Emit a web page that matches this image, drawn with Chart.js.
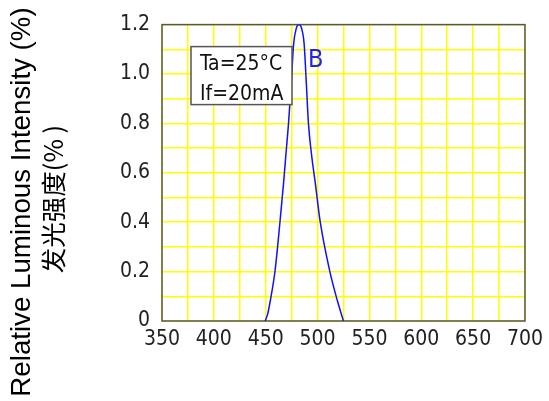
<!DOCTYPE html>
<html>
<head>
<meta charset="utf-8">
<script src="https://cdn.jsdelivr.net/npm/chart.js@4.4.1/dist/chart.umd.min.js"></script>
<style>
  html, body { margin: 0; padding: 0; background: #fff; }
  #spectrum { display: block; }
</style>
</head>
<body>
<canvas id="spectrum" width="549" height="401"></canvas>
<script>
// spectrum (nm, relative intensity)
const wavelength = [449.5, 452, 454.5, 459, 463.8, 467.3, 469.6, 472, 474.6, 476.9, 479.5, 482, 484.6, 487.1, 489.2, 491.2, 494.3, 497.7, 502.5, 511.7, 519, 525];
const intensity = [0, 0.03, 0.084, 0.203, 0.403, 0.562, 0.68, 0.80, 0.96, 1.12, 1.185, 1.2, 1.185, 1.12, 0.96, 0.80, 0.67, 0.562, 0.403, 0.203, 0.084, 0];
const xTicks = [350, 400, 450, 500, 550, 600, 650, 700];
const yTicks = [0, 0.2, 0.4, 0.6, 0.8, 1.0, 1.2];
const titleLines = ['Relative Luminous Intensity (%)', '发光强度(% )'];
const noteLines = ['Ta=25°C', 'If=20mA'];
const curveName = 'B';

const cadFont = "'Liberation Sans Narrow', 'DejaVu Sans Condensed', sans-serif";
const gridYellow = '#ffff00';
const frameGray = '#555555';

const points = wavelength.map((w, i) => ({ x: w, y: intensity[i] }));

// frame, note box, curve name, axis title
const extras = {
    id: 'extras',
    beforeDatasetsDraw(chart) {
        const a = chart.chartArea, ctx = chart.ctx;
        ctx.save();
        ctx.strokeStyle = frameGray;
        ctx.lineWidth = 1.5;
        ctx.strokeRect(a.left, a.top, a.right - a.left, a.bottom - a.top);
        ctx.restore();
    },
    afterDraw(chart) {
        const a = chart.chartArea, ctx = chart.ctx;
        const xs = chart.scales.x;
        ctx.save();
        // note box
        ctx.fillStyle = '#fff';
        ctx.fillRect(a.left + 29, a.top + 22, 101, 58);
        ctx.strokeStyle = frameGray;
        ctx.lineWidth = 1.5;
        ctx.strokeRect(a.left + 29, a.top + 22, 101, 58);
        ctx.fillStyle = '#111';
        ctx.font = '21px ' + cadFont;
        ctx.textBaseline = 'alphabetic';
        ctx.textAlign = 'left';
        ctx.fillText(noteLines[0], a.left + 38, a.top + 45);
        ctx.fillText(noteLines[1], a.left + 38, a.top + 75);
        // curve name
        ctx.fillStyle = '#2222ee';
        ctx.font = '25px ' + cadFont;
        ctx.fillText(curveName, xs.getPixelForValue(482) + 9, a.top + 42);
        // y title, two lines
        ctx.translate(0, 202);
        ctx.rotate(-Math.PI / 2);
        ctx.textAlign = 'center';
        ctx.fillStyle = '#000';
        ctx.font = '27.7px "Liberation Sans", Arial, sans-serif';
        ctx.fillText(titleLines[0], 0, 30);
        ctx.font = '25.5px "Noto Sans CJK SC", sans-serif';
        ctx.fillText(titleLines[1], 3, 63);
        ctx.restore();
    }
};

new Chart(document.getElementById('spectrum'), {
    type: 'line',
    data: {
        datasets: [{
            data: points,
            borderColor: '#1010ff',
            borderWidth: 1.5,
            pointRadius: 0,
            cubicInterpolationMode: 'monotone',
            fill: false
        }]
    },
    options: {
        responsive: false,
        devicePixelRatio: 1,
        animation: false,
        layout: { padding: { left: 0, right: 22, top: 20, bottom: 0 } },
        plugins: { legend: { display: false }, tooltip: { enabled: false } },
        scales: {
            x: {
                type: 'linear',
                min: 350,
                max: 700,
                afterFit: (s) => { s.height = 80; },
                border: { display: false },
                grid: { color: gridYellow, lineWidth: 1.5, drawTicks: false },
                ticks: {
                    stepSize: 25,
                    autoSkip: false,
                    maxRotation: 0,
                    padding: 6,
                    color: '#222',
                    font: { family: cadFont, size: 21 },
                    callback: (v) => xTicks.includes(v) ? String(v) : ''
                }
            },
            y: {
                min: 0,
                max: 1.2,
                afterFit: (s) => { s.width = 162; },
                border: { display: false },
                grid: { color: gridYellow, lineWidth: 1.5, drawTicks: false },
                ticks: {
                    stepSize: 0.1,
                    autoSkip: false,
                    padding: 12,
                    color: '#222',
                    font: { family: cadFont, size: 21 },
                    callback: (v) => {
                        const t = yTicks.find(k => Math.abs(k - v) < 1e-6);
                        if (t === undefined) return '';
                        return t === 0 ? '0' : t.toFixed(1);
                    }
                }
            }
        }
    },
    plugins: [extras]
});
</script>
</body>
</html>
